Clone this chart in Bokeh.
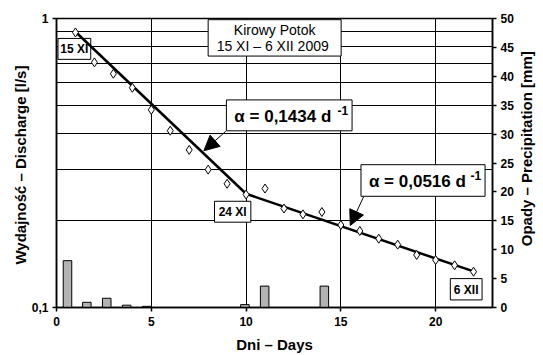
import math
from bokeh.plotting import figure
from bokeh.layouts import row
from bokeh.models import (Range1d, LinearAxis, LinearScale, FixedTicker, Label,
                          Arrow, NormalHead, BoxAnnotation)
from bokeh.embed import file_html
from bokeh.resources import INLINE

# ---- data ----
days = list(range(1, 23))
discharge = [0.895, 0.705, 0.644, 0.576, 0.483, 0.409, 0.351, 0.300, 0.268,
             0.246, 0.258, 0.220, 0.210, 0.214, 0.193, 0.184, 0.173, 0.165,
             0.152, 0.146, 0.140, 0.133]
precip_days = [0.58, 1.6, 2.65, 3.7, 4.75, 9.94, 10.98, 14.13]
precip_mm = [8.1, 0.9, 1.6, 0.4, 0.2, 0.5, 3.7, 3.7]
fit1_days = [1, 10]
fit1_q = [0.90, 0.2475]
fit2_days = [10, 22]
fit2_q = [0.2475, 0.1333]
x_ticks = [0, 5, 10, 15, 20]
y_ticks = [0.1, 1]
y_grid = [0.1, 0.2, 0.3, 0.4, 0.5, 0.6, 0.7, 0.8, 0.9, 1.0]
p_ticks = list(range(0, 51, 5))

FONT = "Liberation Sans"

p = figure(width=516, height=355, output_backend="svg", toolbar_location=None,
           x_range=Range1d(0, 23), y_range=Range1d(0.1, 1), y_axis_type="log",
           min_border_left=56, min_border_right=20, min_border_top=18,
           min_border_bottom=47)
p.background_fill_color = "white"
p.border_fill_color = "white"
p.outline_line_color = "black"
p.outline_line_width = 1.5
p.extra_y_ranges = {"precip": Range1d(0, 50)}
p.extra_y_scales = {"precip": LinearScale()}

# grid
p.xgrid.ticker = FixedTicker(ticks=[5, 10, 15, 20])
p.ygrid.ticker = FixedTicker(ticks=y_grid)
for g in (p.xgrid, p.ygrid):
    g.grid_line_color = "black"
    g.grid_line_width = 1
    g.grid_line_alpha = 1

# axes
p.xaxis.ticker = FixedTicker(ticks=x_ticks)
p.yaxis.ticker = FixedTicker(ticks=y_ticks)
p.yaxis.major_label_overrides = {0.1: "0,1", 1: "1"}
p.xaxis.axis_label = "Dni – Days"
p.yaxis.axis_label = "Wydajność – Discharge  [l/s]"

ra = LinearAxis(y_range_name="precip", ticker=FixedTicker(ticks=p_ticks))
p.add_layout(ra, "right")

for ax in (p.xaxis[0], p.yaxis[0], ra):
    ax.axis_line_color = "black"
    ax.axis_line_width = 1.5
    ax.major_tick_line_color = "black"
    ax.major_tick_line_width = 1.5
    ax.major_tick_out = 4
    ax.major_tick_in = 0
    ax.minor_tick_line_color = None
    ax.major_label_text_font = FONT
    ax.major_label_text_font_style = "bold"
    ax.major_label_text_font_size = "12px"
    ax.major_label_text_color = "black"
    ax.axis_label_text_font = FONT
    ax.axis_label_text_font_style = "bold"
    ax.axis_label_text_font_size = "15px"
    ax.axis_label_text_color = "black"
    ax.major_label_standoff = 2
    ax.axis_label_standoff = 3
p.xaxis.major_label_standoff = 5
p.xaxis.axis_label_standoff = 7
p.yaxis.major_label_standoff = 4
p.yaxis.axis_label_standoff = 0

# bars
p.vbar(x=precip_days, top=precip_mm, bottom=0, width=0.45,
       y_range_name="precip", fill_color="#b3b3b3", line_color="black",
       line_width=1)

# fit lines
p.line(fit1_days, fit1_q, line_color="black", line_width=2.5)
p.line(fit2_days, fit2_q, line_color="black", line_width=2.5)

# points
p.scatter(days, discharge, marker="diamond", size=9, fill_color="white",
          line_color="black", line_width=1)


# ---- annotations (pixel helpers for placement) ----
def dx(px):
    return (px - 56.5) / 19.1


def dy(py):
    return 10 ** (-(py - 18.3) / 290.0)


def box(l, t, r, b, level="annotation"):
    p.add_layout(BoxAnnotation(left=dx(l), right=dx(r), top=dy(t), bottom=dy(b),
                               fill_color="white", fill_alpha=1,
                               line_color="black", line_width=1, line_alpha=1,
                               level=level))


def txt(text, x, y, size, style="bold", align="center", level="annotation"):
    p.add_layout(Label(x=dx(x), y=dy(y), text=text, text_align=align,
                       text_baseline="middle", text_font=FONT,
                       text_font_size=size, text_font_style=style,
                       text_color="black", level=level))


# "15 XI" box (kept inside the plot frame, under the fit line)
box(58, 38.3, 91, 59.3, level="underlay")
txt("15 XI", 74.5, 49.3, "12px", level="underlay")

# other date boxes
for (l, t, r, b), s in [((215.7, 201.7, 252.3, 222.7), "24 XI"),
                        ((453.3, 279.3, 485.3, 300.7), "6 XII")]:
    box(l, t, r, b)
    txt(s, (l + r) / 2, (t + b) / 2 + 0.5, "12px")

# title box
box(209.3, 19.5, 343.3, 56)
txt("Kirowy Potok", 276.3, 29.5, "14px", style="normal")
txt("15 XI – 6  XII 2009", 276.3, 45.5, "14px", style="normal")

# alpha boxes
for (l, t, r, b), s in [((227.7, 100, 354.3, 131), "α = 0,1434 d"),
                        ((363.3, 165, 488.3, 196.7), "α = 0,0516 d")]:
    box(l, t, r, b)
    txt(s, l + 8, (t + b) / 2 + 1.5, "17px", align="left")
    txt("-1", r - 4, t + 11, "12px", align="right")

for (x0, y0, x1, y1) in [(227, 131.5, 205, 151), (366, 197, 352.5, 226)]:
    p.add_layout(Arrow(end=NormalHead(size=15, fill_color="black",
                                      line_color="black"),
                       x_start=dx(x0), y_start=dy(y0), x_end=dx(x1), y_end=dy(y1),
                       line_color="black", line_width=1))

# right-hand axis title, in a narrow strip next to the plot
p2 = figure(width=27, height=355, output_backend="svg", toolbar_location=None,
            x_range=Range1d(0, 27), y_range=Range1d(355, 0),
            min_border=0, min_border_left=0, min_border_right=0,
            min_border_top=0, min_border_bottom=0)
p2.axis.visible = False
p2.grid.visible = False
p2.outline_line_color = None
p2.background_fill_color = "white"
p2.border_fill_color = "white"
p2.add_layout(Label(x=10, y=160, text="Opady – Precipitation [mm]",
                    angle=math.pi / 2, text_align="center",
                    text_baseline="middle", text_font=FONT,
                    text_font_size="15px", text_font_style="bold",
                    text_color="black"))

layout = row(p, p2, spacing=0)
open("out.html", "w").write(file_html(layout, INLINE))
